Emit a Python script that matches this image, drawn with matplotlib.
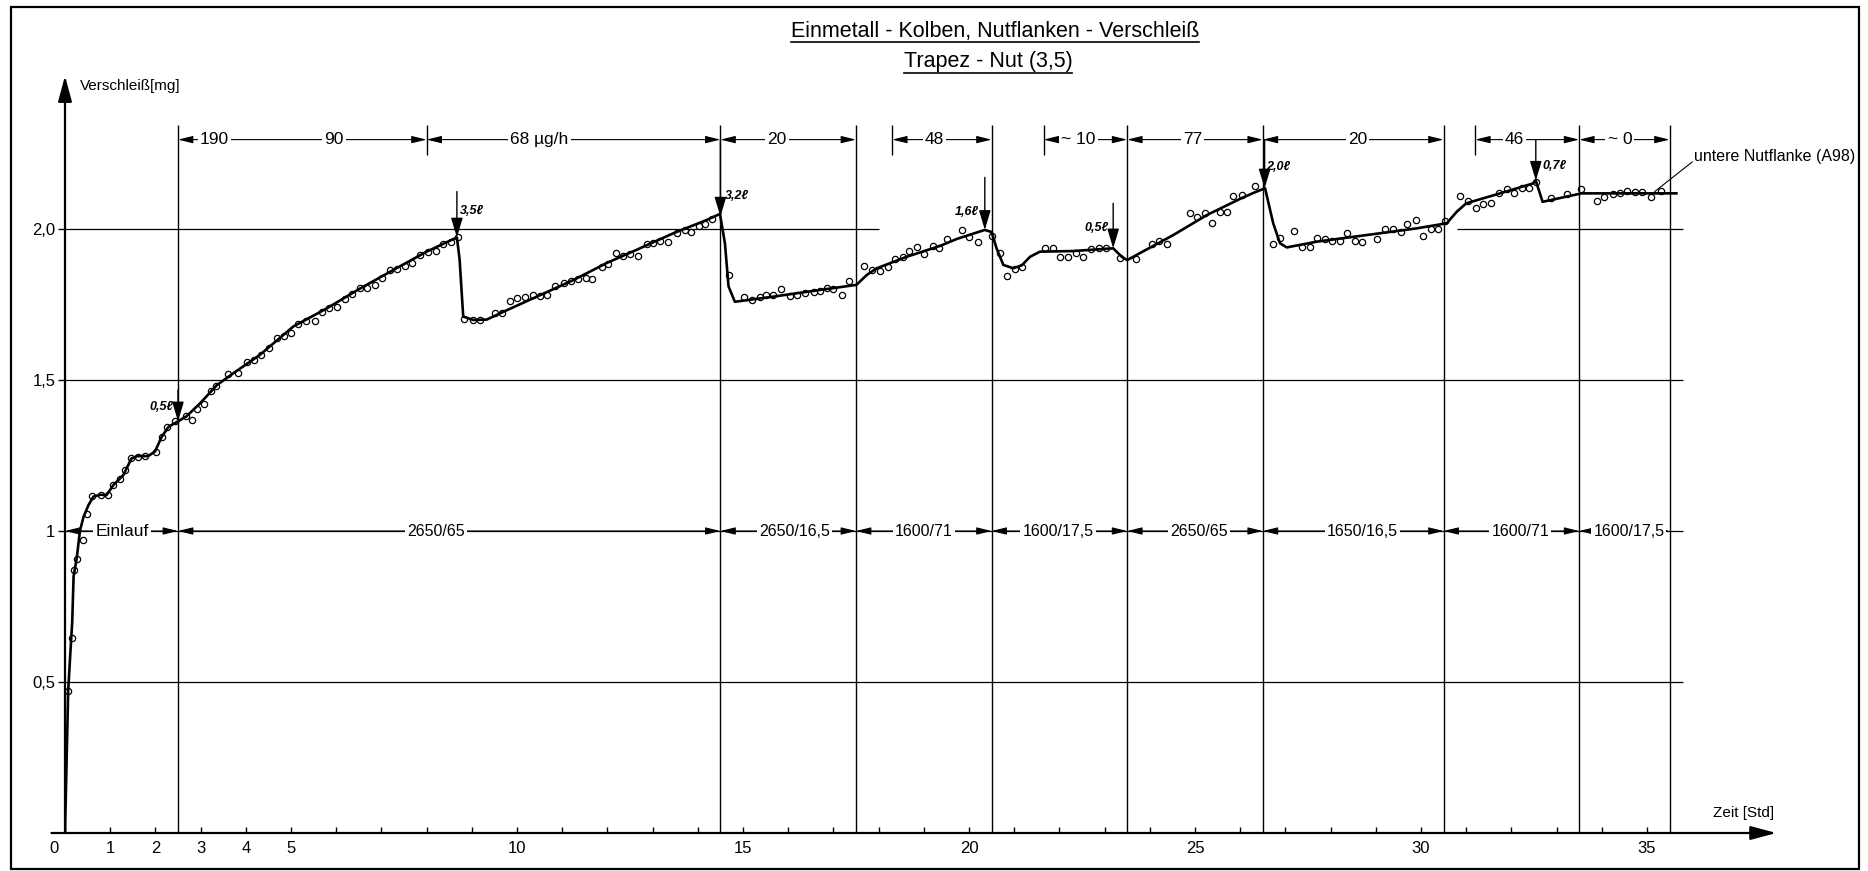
import numpy as np
import matplotlib
matplotlib.use('Agg')
import matplotlib.pyplot as plt
from matplotlib.patches import Rectangle
from matplotlib.lines import Line2D

plt.rcParams['font.family'] = ['Liberation Sans Narrow', 'Liberation Sans', 'DejaVu Sans']

# smoothed wear curve: time [h], wear [mg]
curve_t = [0.00, 0.03, 0.07, 0.12, 0.16, 0.19, 0.26, 0.33, 0.41, 0.52, 0.63, 0.78, 0.92,
           1.07, 1.29, 1.47, 1.60, 1.84, 1.99, 2.14, 2.29, 2.51, 2.69, 2.99, 3.36, 3.72,
           4.31, 5.05, 5.79, 6.53, 7.26, 8.00, 8.67, 8.73, 8.81, 9.03, 9.33, 9.70, 10.51,
           11.25, 11.98, 12.72, 13.46, 14.20, 14.49, 14.60, 14.68, 14.82, 15.67, 16.41,
           17.51, 17.74, 17.96, 18.62, 19.36, 19.73, 20.35, 20.50, 20.61, 20.76, 20.98,
           21.17, 21.35, 21.57, 22.30, 23.19, 23.38, 23.50, 23.78, 24.52, 25.26, 26.00,
           26.30, 26.55, 26.73, 26.88, 27.03, 27.69, 28.80, 29.90, 30.57, 30.79, 31.00,
           31.75, 32.48, 32.54, 32.69, 33.00, 33.55, 35.65]
curve_w = [0.00, 0.20, 0.47, 0.60, 0.70, 0.85, 0.91, 1.00, 1.047, 1.086, 1.114, 1.12, 1.119,
           1.152, 1.185, 1.24, 1.248, 1.248, 1.263, 1.312, 1.345, 1.364, 1.38, 1.423, 1.483,
           1.522, 1.583, 1.677, 1.737, 1.803, 1.864, 1.925, 1.972, 1.90, 1.71, 1.699, 1.70,
           1.726, 1.781, 1.831, 1.887, 1.936, 1.986, 2.03, 2.05, 1.953, 1.81, 1.759, 1.776,
           1.792, 1.815, 1.848, 1.87, 1.908, 1.944, 1.967, 1.997, 1.99, 1.936, 1.881, 1.87,
           1.88, 1.908, 1.925, 1.927, 1.936, 1.908, 1.897, 1.92, 1.98, 2.046, 2.10,
           2.12, 2.135, 2.019, 1.953, 1.939, 1.958, 1.98, 2.002, 2.019, 2.057, 2.085,
           2.118, 2.151, 2.16, 2.09, 2.10, 2.118, 2.118]

# single measurements
meas_t = [0.07, 0.15, 0.20, 0.26, 0.39, 0.48, 0.60, 0.79, 0.96, 1.07, 1.22, 1.33, 1.47, 1.62,
          1.77, 2.01, 2.14, 2.26, 2.43, 2.68, 2.80, 2.93, 3.08, 3.22, 3.34, 3.61, 3.83, 4.02,
          4.18, 4.34, 4.51, 4.68, 4.85, 5.00, 5.16, 5.33, 5.53, 5.68, 5.85, 6.01, 6.19, 6.36,
          6.53, 6.69, 6.86, 7.01, 7.18, 7.34, 7.52, 7.68, 7.85, 8.04, 8.21, 8.37, 8.54, 8.70,
          8.83, 9.02, 9.19, 9.51, 9.66, 9.85, 10.01, 10.18, 10.36, 10.51, 10.67, 10.84, 11.03,
          11.19, 11.34, 11.52, 11.67, 11.87, 12.02, 12.19, 12.34, 12.51, 12.68, 12.88, 13.01,
          13.17, 13.35, 13.55, 13.72, 13.85, 14.03, 14.17, 14.32, 14.68, 15.02, 15.20, 15.37,
          15.51, 15.67, 15.85, 16.03, 16.19, 16.37, 16.56, 16.71, 16.85, 17.00, 17.18, 17.35,
          17.68, 17.85, 18.03, 18.20, 18.36, 18.53, 18.68, 18.86, 19.00, 19.20, 19.34, 19.52,
          19.84, 20.01, 20.19, 20.50, 20.68, 20.85, 21.02, 21.18, 21.68, 21.85, 22.01, 22.20,
          22.37, 22.53, 22.69, 22.88, 23.04, 23.34, 23.69, 24.04, 24.21, 24.37, 24.89, 25.05,
          25.22, 25.37, 25.55, 25.70, 25.85, 26.03, 26.33, 26.72, 26.88, 27.20, 27.36, 27.54,
          27.69, 27.88, 28.03, 28.20, 28.36, 28.55, 28.69, 29.02, 29.20, 29.37, 29.55, 29.68,
          29.88, 30.05, 30.22, 30.38, 30.53, 30.86, 31.05, 31.22, 31.38, 31.54, 31.73, 31.90,
          32.06, 32.23, 32.39, 32.54, 32.88, 33.22, 33.54, 33.89, 34.05, 34.24, 34.40, 34.56,
          34.73, 34.90, 35.08, 35.32]
meas_w = [0.47, 0.645, 0.87, 0.906, 0.97, 1.055, 1.116, 1.12, 1.12, 1.152, 1.171, 1.202, 1.243,
          1.246, 1.248, 1.262, 1.312, 1.345, 1.365, 1.381, 1.368, 1.403, 1.421, 1.464, 1.48,
          1.52, 1.522, 1.561, 1.566, 1.583, 1.605, 1.638, 1.646, 1.657, 1.685, 1.695, 1.696,
          1.724, 1.737, 1.743, 1.768, 1.785, 1.803, 1.806, 1.816, 1.837, 1.864, 1.866, 1.877,
          1.886, 1.914, 1.923, 1.927, 1.949, 1.958, 1.975, 1.701, 1.699, 1.70, 1.721, 1.723,
          1.762, 1.771, 1.776, 1.783, 1.777, 1.781, 1.811, 1.822, 1.829, 1.833, 1.837, 1.833,
          1.875, 1.884, 1.922, 1.911, 1.916, 1.912, 1.95, 1.954, 1.96, 1.957, 1.988, 1.996,
          1.991, 2.011, 2.016, 2.032, 1.848, 1.776, 1.766, 1.774, 1.78, 1.781, 1.80, 1.777,
          1.781, 1.789, 1.792, 1.795, 1.806, 1.80, 1.781, 1.829, 1.877, 1.864, 1.861, 1.875,
          1.90, 1.908, 1.928, 1.941, 1.917, 1.944, 1.936, 1.966, 1.997, 1.975, 1.956, 1.977,
          1.92, 1.846, 1.868, 1.875, 1.936, 1.936, 1.906, 1.908, 1.92, 1.908, 1.935, 1.936,
          1.936, 1.905, 1.90, 1.949, 1.96, 1.95, 2.052, 2.041, 2.052, 2.021, 2.057, 2.057,
          2.109, 2.113, 2.142, 1.95, 1.969, 1.994, 1.941, 1.939, 1.97, 1.968, 1.96, 1.959,
          1.988, 1.959, 1.957, 1.966, 2.001, 1.999, 1.991, 2.015, 2.03, 1.978, 2.0, 2.0,
          2.027, 2.11, 2.093, 2.07, 2.082, 2.087, 2.118, 2.132, 2.118, 2.137, 2.135, 2.157,
          2.104, 2.115, 2.131, 2.093, 2.107, 2.116, 2.118, 2.126, 2.122, 2.122, 2.105, 2.126]

# operating periods: speed / load
period_t = [0, 2.5, 14.5, 17.5, 20.5, 23.5, 26.5, 30.5, 33.5, 35.5]
period_lbl = ['Einlauf', '2650/65', '2650/16,5', '1600/71', '1600/17,5',
              '2650/65', '1650/16,5', '1600/71', '1600/17,5']
period_lbl_t = [1.26, 8.2, 16.15, 19.0, 21.97, 25.08, 28.7, 32.2, 34.6]

# wear rates [µg/h]
rate_from = [2.5, 8.0, 14.5, 18.3, 21.65, 23.5, 26.5, 31.2, 33.5]
rate_to = [8.0, 14.5, 17.5, 20.5, 23.5, 26.5, 30.5, 33.5, 35.5]
rate_lbl = [['190', '90'], ['68 µg/h'], ['20'], ['48'], ['~ 10'], ['77'], ['20'], ['46'], ['~ 0']]
rate_lbl_t = [[3.3, 5.95], [10.5], [15.75], [19.24], [22.42], [24.94], [28.6], [32.07], [34.4]]

# oil changes
oil_t = [2.5, 8.67, 14.5, 20.35, 23.19, 26.54, 32.54]
oil_top = [1.467, 2.124, 2.296, 2.171, 2.085, 2.296, 2.296]
oil_lbl = ['0,5ℓ', '3,5ℓ', '3,2ℓ', '1,6ℓ', '0,5ℓ', '2,0ℓ', '0,7ℓ']
oil_lbl_t = [2.14, 9.0, 14.86, 19.95, 22.82, 26.84, 32.96]
oil_lbl_w = [1.412, 2.06, 2.109, 2.057, 2.002, 2.206, 2.208]

xticks = np.arange(0, 36)
xlabeled = [1, 2, 3, 4, 5, 10, 15, 20, 25, 30, 35]
yticks = [0.5, 1.0, 1.5, 2.0]
ylabels = ['0,5', '1', '1,5', '2,0']

W, H = 1868, 871
t_max, w_max = 37.86, 2.507
fig = plt.figure(figsize=(W / 100, H / 100), dpi=100)
ax = fig.add_axes([65 / W, 38 / H, t_max * 45.2 / W, w_max * 302 / H])
ax.set_xlim(0, t_max)
ax.set_ylim(0, w_max)
for sp in ax.spines.values():
    sp.set_visible(False)

# axes with arrow heads
axis_arrow = dict(arrowstyle='-|>,head_length=1.3,head_width=0.35', lw=1.6, color='k',
                  shrinkA=0, shrinkB=0, mutation_scale=12)
ax.annotate('', xy=(t_max, 0), xytext=(-0.3, 0), arrowprops=axis_arrow, annotation_clip=False)
ax.annotate('', xy=(0, w_max), xytext=(0, 0), arrowprops=axis_arrow, annotation_clip=False)

ax.set_xticks(xticks)
ax.set_xticklabels([str(i) if i in xlabeled else '' for i in xticks])
ax.tick_params(axis='x', direction='in', length=4, width=1.0, labelsize=12, pad=6)
ax.set_yticks(yticks)
ax.set_yticklabels(ylabels)
ax.tick_params(axis='y', direction='out', length=5, width=1.0, labelsize=12, pad=2)
ax.annotate('0', (0, 0), xytext=(-8, -6), textcoords='offset points', ha='center', va='top',
            fontsize=12, annotation_clip=False)

# grid
ax.hlines(yticks[:3], 0, 35.8, color='k', lw=0.9)
ax.hlines([2.0, 2.0], [0, 30.8], [18.0, 35.8], color='k', lw=0.9)
ax.vlines(period_t[1:], 0, 2.345, color='k', lw=1.0)
ax.vlines([8.0, 18.3, 21.65, 31.2], 2.245, 2.345, color='k', lw=1.0)

dim_arrow = dict(arrowstyle='<|-|>,head_length=0.9,head_width=0.22', lw=0.8, color='k',
                 shrinkA=0, shrinkB=0, mutation_scale=10)
box = dict(facecolor='white', edgecolor='none', pad=1.5)

# wear-rate row
for a, b, lbls, lts in zip(rate_from, rate_to, rate_lbl, rate_lbl_t):
    ax.annotate('', xy=(b, 2.296), xytext=(a, 2.296), arrowprops=dim_arrow)
    for s, lt in zip(lbls, lts):
        ax.text(lt, 2.296, s, fontsize=12.5, ha='center', va='center', bbox=box)

# operating-point row
for i, s in enumerate(period_lbl):
    ax.annotate('', xy=(period_t[i + 1], 1.0), xytext=(period_t[i], 1.0), arrowprops=dim_arrow)
    ax.text(period_lbl_t[i], 1.0, s, fontsize=12.5 if i == 0 else 11.5,
            ha='center', va='center', bbox=box)

# wear curve and measurements
ax.plot(curve_t, curve_w, color='k', lw=1.9, solid_joinstyle='round', zorder=3)
ax.plot(meas_t, meas_w, 'o', mfc='none', mec='k', ms=4.5, mew=0.9, zorder=4)

# oil refills
oil_w = np.interp(oil_t, curve_t, curve_w)
for t, top, w, s, lt, lw_ in zip(oil_t, oil_top, oil_w, oil_lbl, oil_lbl_t, oil_lbl_w):
    ax.annotate('', xy=(t, w), xytext=(t, top),
                arrowprops=dict(arrowstyle='-|>,head_length=1.0,head_width=0.3', lw=1.0,
                                color='k', shrinkA=0, shrinkB=0, mutation_scale=12))
    ax.text(lt, lw_, s, fontsize=9, style='italic', fontweight='bold', ha='center', va='center')

ax.text(0.33, 2.474, 'Verschleiß[mg]', fontsize=11, ha='left', va='center')
ax.text(37.13, 0.066, 'Zeit [Std]', fontsize=11, ha='center', va='center')
ax.plot([35.17, 36.0], [2.124, 2.222], color='k', lw=0.8, clip_on=False)
ax.text(36.03, 2.24, 'untere Nutflanke (A98)', fontsize=11.5, ha='left', va='center')

# title, underlined
t1 = fig.text(995 / W, 1 - 31 / H, 'Einmetall - Kolben, Nutflanken - Verschleiß',
              ha='center', va='center', fontsize=15.5)
t2 = fig.text(988 / W, 1 - 62 / H, 'Trapez - Nut (3,5)', ha='center', va='center', fontsize=15.5)
fig.canvas.draw()
r = fig.canvas.get_renderer()
for t in (t1, t2):
    bb = t.get_window_extent(r)
    fig.add_artist(Line2D([bb.x0 / W, bb.x1 / W], [(bb.y0 - 1) / H] * 2,
                          transform=fig.transFigure, color='k', lw=1.2))

fig.add_artist(Rectangle((11 / W, 2 / H), 1848 / W, 862 / H, transform=fig.transFigure,
                         fill=False, ec='k', lw=1.6))

fig.savefig('out.png', dpi=100)
